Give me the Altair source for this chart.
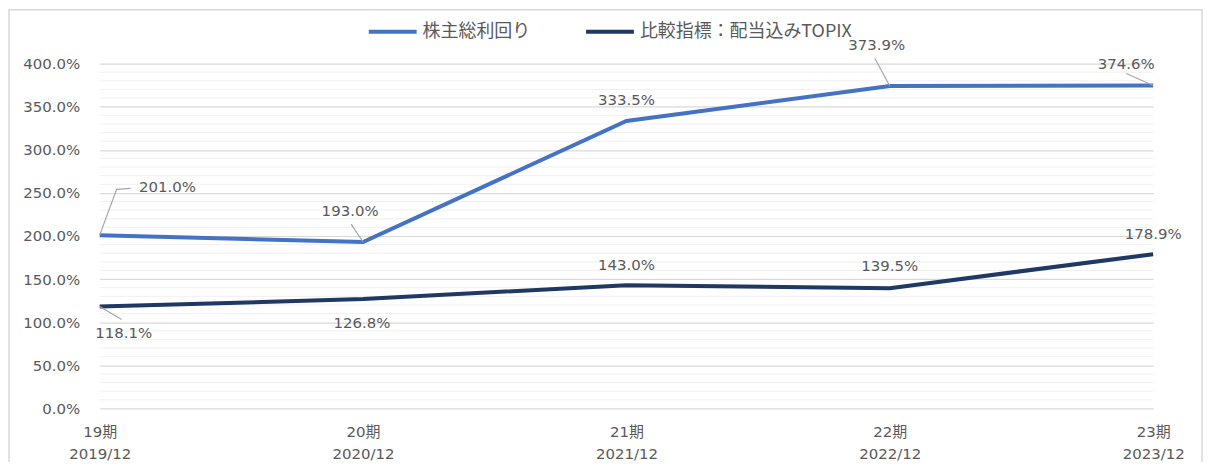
import json
import altair as alt
import pandas as pd

# ---- data ----
periods = ["19期", "20期", "21期", "22期", "23期"]
dates = ["2019/12", "2020/12", "2021/12", "2022/12", "2023/12"]
series_names = ["株主総利回り", "比較指標：配当込みTOPIX"]
tsr = [201.0, 193.0, 333.5, 373.9, 374.6]
topix = [118.1, 126.8, 143.0, 139.5, 178.9]
y_ticks = [0, 50, 100, 150, 200, 250, 300, 350, 400]

# ---- styling (pixel offsets of labels / leader lines) ----
W, H = 1057, 346
PX_X = W / 4.0
PX_Y = H / 400.0
tsr_label_off = [(68, -48), (-13, -31), (0, -21), (-13, -41), (-27, -22)]
topix_label_off = [(24, 26), (-1, 24), (0, -20), (0, -22), (0, -20)]
tsr_leaders = {0: [(0, 0), (17, -46), (31, -47)], 1: [(0, 0), (-12, -18)],
               3: [(0, 0), (-15, -28)], 4: [(0, 0), (-27, -12)]}
topix_leaders = {0: [(0, 0), (22, 13)]}
minor_grid = [v for v in range(10, 400, 10) if v % 50]

BLUE = "#4472C4"
NAVY = "#1F3864"
TXT = "#595959"
FONT = "DejaVu Sans, Noto Sans CJK JP"

rows, labels, leaders = [], [], []
for name, vals, offs, leads in [(series_names[0], tsr, tsr_label_off, tsr_leaders),
                                (series_names[1], topix, topix_label_off, topix_leaders)]:
    for i, v in enumerate(vals):
        rows.append({"idx": i, "value": v, "series": name})
        dx, dy = offs[i]
        labels.append({"idx": i + dx / PX_X, "value": v - dy / PX_Y,
                       "text": f"{v:.1f}%", "series": name})
        if i in leads:
            for k, (ox, oy) in enumerate(leads[i]):
                leaders.append({"idx": i + ox / PX_X, "value": v - oy / PX_Y,
                                "seg": f"{name}-{i}", "ord": k})

df = pd.DataFrame(rows)
df_lab = pd.DataFrame(labels)
df_lead = pd.DataFrame(leaders)
df_minor = pd.DataFrame({"value": minor_grid})

xlabels = [[p, d] for p, d in zip(periods, dates)]
label_expr = json.dumps(xlabels, ensure_ascii=False) + "[datum.value]"

x_scale = alt.Scale(domain=[0, 4], nice=False, zero=False)
y_scale = alt.Scale(domain=[0, 400], nice=False)

X = alt.X("idx:Q", scale=x_scale,
          axis=alt.Axis(values=[0, 1, 2, 3, 4], labelExpr=label_expr, grid=False,
                        domain=False, ticks=False, labelPadding=16, labelLineHeight=22,
                        labelFont=FONT, labelFontSize=15, labelColor=TXT, title=None,
                        labelFlush=False, labelOverlap=False))
Y = alt.Y("value:Q", scale=y_scale,
          axis=alt.Axis(values=y_ticks, labelExpr="format(datum.value, '.1f') + '%'",
                        grid=True, gridColor="#d9d9d9", gridWidth=1.2, domain=False,
                        ticks=False, labelPadding=20, labelFont=FONT, labelFontSize=15,
                        labelColor=TXT, title=None))

frame = alt.Chart(pd.DataFrame({"a": [0]})).mark_rect(
    fillOpacity=0, stroke="#d9d9d9", strokeWidth=1.5
).encode(x=alt.value(-91), x2=alt.value(W + 49), y=alt.value(-54), y2=alt.value(H + 80))

minor = alt.Chart(df_minor).mark_rule(color="#f0f0f0", strokeWidth=1).encode(y=Y)

lines = alt.Chart(df).mark_line(strokeWidth=4).encode(
    x=X,
    y=Y,
    color=alt.Color("series:N",
                    scale=alt.Scale(domain=series_names, range=[BLUE, NAVY]),
                    legend=alt.Legend(orient="none", legendX=268, legendY=-58, padding=0,
                                      direction="horizontal", title=None,
                                      symbolType="stroke", symbolSize=2304,
                                      symbolStrokeWidth=4, labelFont="Noto Sans CJK JP",
                                      labelFontSize=18, labelColor=TXT, labelLimit=0,
                                      columnPadding=48, labelOffset=4)),
)

leader = alt.Chart(df_lead).mark_line(color="#a6a6a6", strokeWidth=1.2).encode(
    x=X, y=Y, detail="seg:N", order="ord:Q",
)

text = alt.Chart(df_lab).mark_text(
    font=FONT, fontSize=15, color=TXT, align="center", baseline="middle"
).encode(x=X, y=Y, text="text:N")

chart = alt.layer(frame, minor, lines, leader, text).properties(
    width=W, height=H, autosize="none",
    padding={"left": 92, "top": 55, "right": 51, "bottom": 53},
).configure_view(stroke=None)

chart.save("out.html", embed_options={"renderer": "svg", "actions": False})
